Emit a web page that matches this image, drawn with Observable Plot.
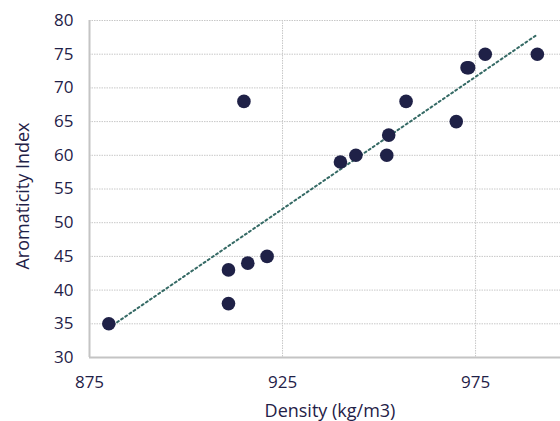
<!DOCTYPE html>
<html>
<head>
<meta charset="utf-8">
<script src="https://cdn.jsdelivr.net/npm/d3@7"></script>
<script src="https://cdn.jsdelivr.net/npm/@observablehq/plot@0.6"></script>
<style>
  html, body { margin: 0; padding: 0; background: #fff; }
  #chart svg { display: block; }
</style>
</head>
<body>
<div id="chart"></div>
<script>
const density = [880, 911, 911, 916, 921, 915, 940, 944, 952, 952.5, 957, 970, 972.8, 973.2, 977.5, 991];
const aromaticity = [35, 38, 43, 44, 45, 68, 59, 60, 60, 63, 68, 65, 73, 73, 75, 75];
const xTicks = [875, 925, 975];
const yTicks = [30, 35, 40, 45, 50, 55, 60, 65, 70, 75, 80];
const xTitle = ["Density (kg/m3)"];
const yTitle = ["Aromaticity Index"];

const data = density.map((d, i) => ({density: d, aromaticity: aromaticity[i]}));
const navy = "#1f2147";

const chart = Plot.plot({
  width: 560,
  height: 421,
  marginLeft: 89,
  marginRight: 0,
  marginTop: 20,
  marginBottom: 64,
  style: {fontFamily: "'Open Sans', Lato, sans-serif", color: navy, background: "#fff"},
  x: {domain: [875, 997]},
  y: {domain: [30, 80]},
  marks: [
    Plot.ruleY(yTicks.filter(t => t > 30), {stroke: "#c8c8c8", strokeWidth: 1, strokeDasharray: "1.5,1"}),
    Plot.ruleX(xTicks.filter(t => t > 875), {stroke: "#c8c8c8", strokeWidth: 1, strokeDasharray: "1.5,1"}),
    Plot.ruleX([875], {stroke: "#c4c4c4", strokeWidth: 2}),
    Plot.ruleY([30], {stroke: "#c4c4c4", strokeWidth: 2}),
    Plot.axisY({ticks: yTicks, tickSize: 0, tickPadding: 16, fontSize: 17, fill: navy, label: null}),
    Plot.axisX({ticks: xTicks, tickSize: 0, tickPadding: 18, fontSize: 17, fill: navy, label: null}),
    Plot.text(xTitle, {text: d => d, frameAnchor: "bottom", textAnchor: "middle", lineAnchor: "middle", dx: 5, dy: 53.5, fontSize: 18, fill: navy}),
    Plot.text(yTitle, {text: d => d, frameAnchor: "left", rotate: -90, textAnchor: "middle", lineAnchor: "middle", dx: -66, dy: 7, fontSize: 18, fill: navy}),
    Plot.linearRegressionY(data, {x: "density", y: "aromaticity", ci: 0,
      stroke: "#356a65", strokeWidth: 2, strokeDasharray: "2,3"}),
    Plot.dot(data, {x: "density", y: "aromaticity", r: 6.8, fill: navy, stroke: "none"})
  ]
});
document.getElementById("chart").append(chart);
</script>
</body>
</html>
